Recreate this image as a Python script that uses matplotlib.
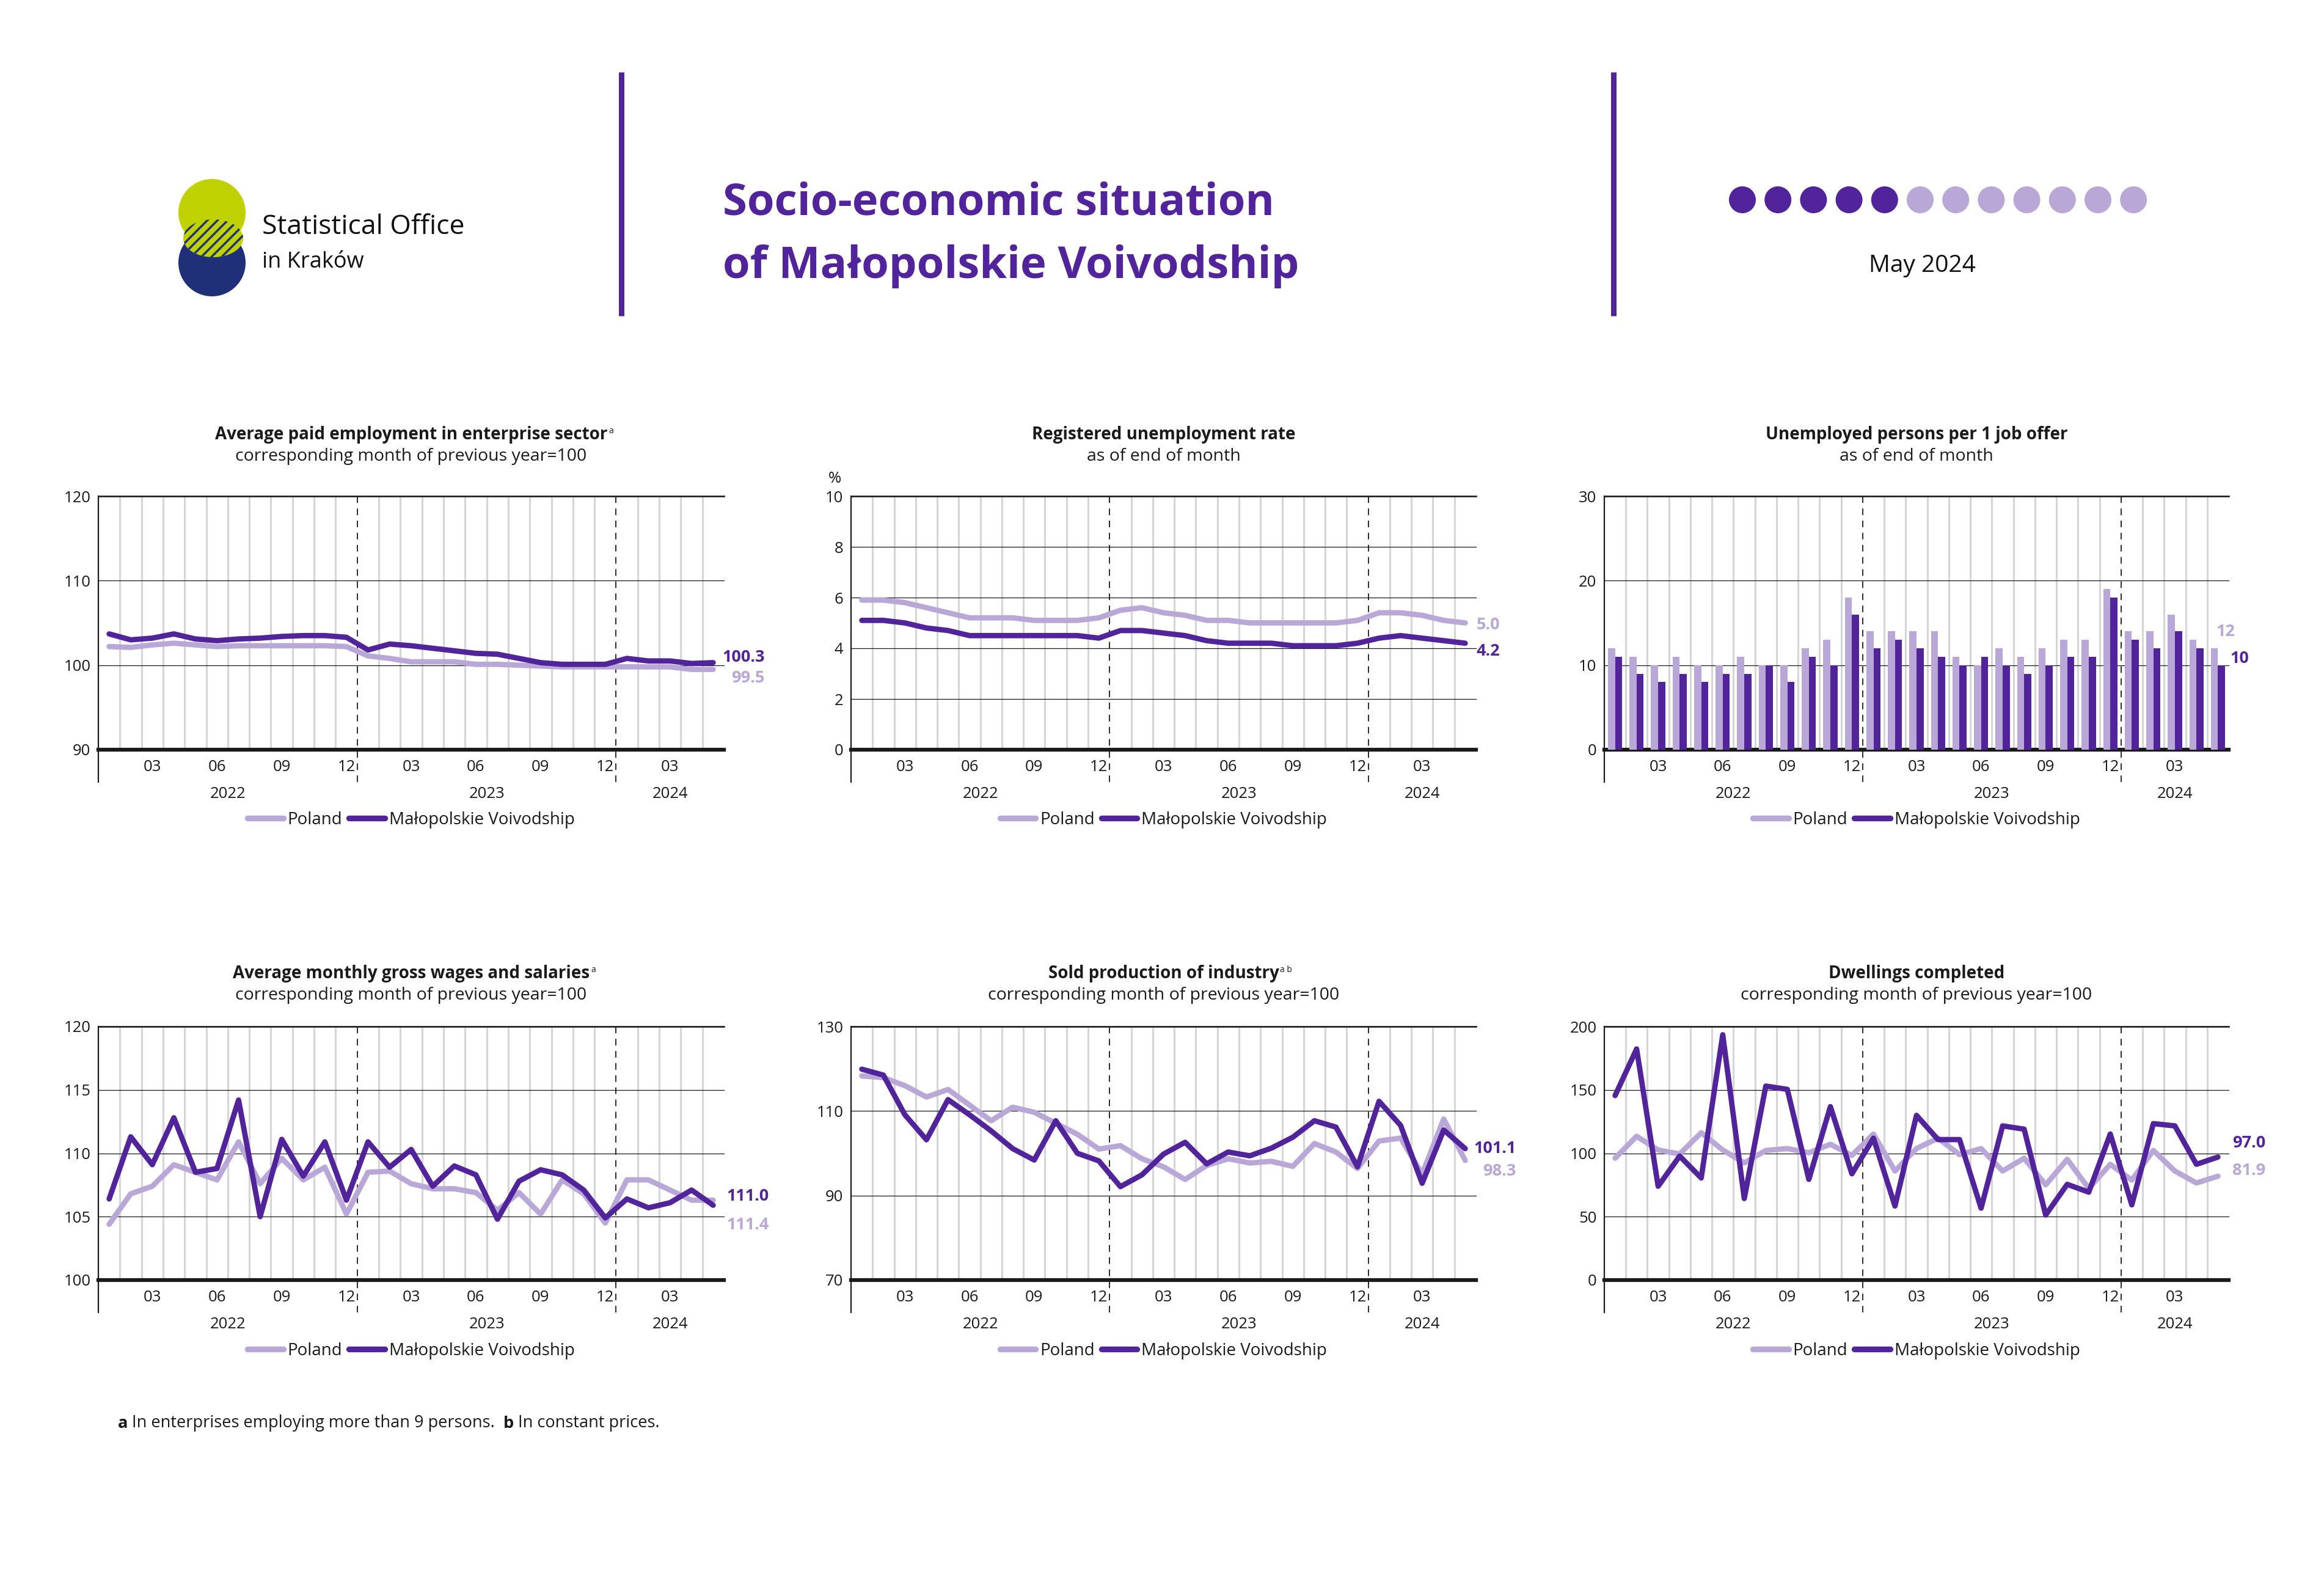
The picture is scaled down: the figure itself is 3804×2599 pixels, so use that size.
import matplotlib
matplotlib.use("Agg")
import matplotlib.pyplot as plt
from matplotlib.lines import Line2D
from matplotlib.patches import Circle, Ellipse

plt.rcParams["font.family"] = ["Open Sans", "DejaVu Sans"]
plt.rcParams["hatch.linewidth"] = 2.5

DARK = "#52249b"
LIGHT = "#b9a7d7"
GREY = "#d6d6d6"
INK = "#1a1a1a"
GREEN = "#bfd200"
NAVY = "#1f2f78"

W, H = 3804, 2599          # output size in pixels (dpi 100)
PT = 0.72                  # points per pixel

# ---- data ------------------------------------------------------------------
MONTHS = ["2022-01", "2022-02", "2022-03", "2022-04", "2022-05", "2022-06",
          "2022-07", "2022-08", "2022-09", "2022-10", "2022-11", "2022-12",
          "2023-01", "2023-02", "2023-03", "2023-04", "2023-05", "2023-06",
          "2023-07", "2023-08", "2023-09", "2023-10", "2023-11", "2023-12",
          "2024-01", "2024-02", "2024-03", "2024-04", "2024-05"]
REPORT_MONTH = 5
SERIES_NAMES = ["Poland", "Małopolskie Voivodship"]

EMP_PL = [102.2, 102.1, 102.4, 102.6, 102.4, 102.2, 102.3, 102.3, 102.3, 102.3,
          102.3, 102.2, 101.1, 100.8, 100.4, 100.4, 100.4, 100.1, 100.1, 100.0,
          99.9, 99.8, 99.8, 99.8, 99.8, 99.8, 99.8, 99.5, 99.5]
EMP_MP = [103.7, 103.0, 103.2, 103.7, 103.1, 102.9, 103.1, 103.2, 103.4, 103.5,
          103.5, 103.3, 101.8, 102.5, 102.3, 102.0, 101.7, 101.4, 101.3, 100.8,
          100.3, 100.1, 100.1, 100.1, 100.8, 100.5, 100.5, 100.2, 100.3]

UNEMP_PL = [5.9, 5.9, 5.8, 5.6, 5.4, 5.2, 5.2, 5.2, 5.1, 5.1, 5.1, 5.2, 5.5, 5.6,
            5.4, 5.3, 5.1, 5.1, 5.0, 5.0, 5.0, 5.0, 5.0, 5.1, 5.4, 5.4, 5.3, 5.1, 5.0]
UNEMP_MP = [5.1, 5.1, 5.0, 4.8, 4.7, 4.5, 4.5, 4.5, 4.5, 4.5, 4.5, 4.4, 4.7, 4.7,
            4.6, 4.5, 4.3, 4.2, 4.2, 4.2, 4.1, 4.1, 4.1, 4.2, 4.4, 4.5, 4.4, 4.3, 4.2]

OFFER_PL = [12, 11, 10, 11, 10, 10, 11, 10, 10, 12, 13, 18, 14, 14, 14, 14, 11,
            10, 12, 11, 12, 13, 13, 19, 14, 14, 16, 13, 12]
OFFER_MP = [11, 9, 8, 9, 8, 9, 9, 10, 8, 11, 10, 16, 12, 13, 12, 11, 10, 11, 10,
            9, 10, 11, 11, 18, 13, 12, 14, 12, 10]

WAGE_PL = [104.4, 106.8, 107.4, 109.1, 108.5, 107.9, 110.9, 107.6, 109.6, 107.9,
           108.9, 105.2, 108.5, 108.6, 107.6, 107.2, 107.2, 106.9, 105.5, 106.9,
           105.2, 107.9, 106.8, 104.5, 107.9, 107.9, 107.1, 106.3, 106.3]
WAGE_MP = [106.4, 111.3, 109.1, 112.8, 108.5, 108.8, 114.2, 105.0, 111.1, 108.2,
           110.9, 106.3, 110.9, 108.9, 110.3, 107.4, 109.0, 108.3, 104.8, 107.8,
           108.7, 108.3, 107.1, 104.9, 106.4, 105.7, 106.1, 107.1, 105.9]

PROD_PL = [118.3, 117.9, 116.0, 113.3, 115.1, 111.4, 107.7, 110.9, 109.7, 107.1,
           104.5, 101.0, 101.8, 98.7, 96.8, 93.8, 97.1, 98.7, 97.7, 98.1,
           96.9, 102.3, 100.3, 96.4, 102.9, 103.6, 95.1, 108.1, 98.3]
PROD_MP = [119.9, 118.5, 109.1, 103.2, 112.7, 109.1, 105.3, 101.1, 98.4, 107.7,
           100.0, 98.2, 92.1, 94.9, 99.8, 102.6, 97.5, 100.3, 99.4, 101.2,
           103.8, 107.7, 106.2, 96.8, 112.3, 106.6, 92.9, 105.5, 101.1]

DWELL_PL = [96.1, 113.4, 102.6, 99.4, 116.2, 102.6, 92.4, 102.2, 103.7, 100.4,
            107.1, 98.3, 115.2, 86.0, 103.7, 111.9, 98.9, 103.7, 86.0, 96.1,
            75.1, 95.2, 72.3, 91.3, 78.8, 102.2, 86.0, 76.6, 81.9]
DWELL_MP = [145.5, 182.3, 74.0, 97.8, 80.5, 193.5, 64.3, 153.0, 150.4, 79.4,
            136.8, 83.8, 111.9, 58.4, 129.9, 110.8, 110.8, 56.7, 121.6, 119.0,
            51.3, 75.5, 69.3, 115.2, 59.3, 123.4, 121.6, 91.3, 97.0]

# end-of-series labels as printed (Poland, Małopolskie)
EMP_END = ["99.5", "100.3"]
UNEMP_END = ["5.0", "4.2"]
OFFER_END = ["12", "10"]
WAGE_END = ["111.4", "111.0"]
PROD_END = ["98.3", "101.1"]
DWELL_END = ["81.9", "97.0"]

PANELS = [
    dict(title="Average paid employment in enterprise sector", sup="a",
         sub="corresponding month of previous year=100", kind="line",
         pl=EMP_PL, mp=EMP_MP, end=EMP_END, ticks=[90, 100, 110, 120],
         lab=[(67, -14), (67, 9)]),
    dict(title="Registered unemployment rate", sup="", unit="%",
         sub="as of end of month", kind="line",
         pl=UNEMP_PL, mp=UNEMP_MP, end=UNEMP_END, ticks=[0, 2, 4, 6, 8, 10],
         lab=[(39, -4), (39, -13)]),
    dict(title="Unemployed persons per 1 job offer", sup="",
         sub="as of end of month", kind="bar",
         pl=OFFER_PL, mp=OFFER_MP, end=OFFER_END, ticks=[0, 10, 20, 30],
         lab=[(10, 27), (33, 11)]),
    dict(title="Average monthly gross wages and salaries", sup="a",
         sub="corresponding month of previous year=100", kind="line",
         pl=WAGE_PL, mp=WAGE_MP, end=WAGE_END, ticks=[100, 105, 110, 115, 120],
         lab=[(74, -41), (74, 15)]),
    dict(title="Sold production of industry", sup="a b",
         sub="corresponding month of previous year=100", kind="line",
         pl=PROD_PL, mp=PROD_MP, end=PROD_END, ticks=[70, 90, 110, 130],
         lab=[(66, -18), (66, 0)]),
    dict(title="Dwellings completed", sup="",
         sub="corresponding month of previous year=100", kind="line",
         pl=DWELL_PL, mp=DWELL_MP, end=DWELL_END, ticks=[0, 50, 100, 150, 200],
         lab=[(60, 9), (60, 23)]),
]

# ---- layout (pixels) -------------------------------------------------------
COL_X = [(161, 1185), (1393, 2416), (2626, 3648)]
ROW_TOP = [812, 1680]
AX_H = 415
TITLE_Y = [711, 1593]
LEGEND_Y = [1342, 2211]
FS = 18.5                  # tick / axis label size

fig = plt.figure(figsize=(W / 100, H / 100), dpi=100)
bg = fig.add_axes([0, 0, 1, 1])
bg.set_xlim(0, W)
bg.set_ylim(H, 0)
bg.axis("off")

# ---- header ----------------------------------------------------------------
bg.add_patch(Circle((347, 430), 55, color=NAVY, lw=0))
bg.add_patch(Circle((347, 348), 55, color=GREEN, lw=0))
bg.add_patch(Ellipse((349, 390), 98, 62, facecolor=GREEN, edgecolor=NAVY,
                     lw=0, hatch="//"))
bg.text(429, 383, "Statistical Office", fontsize=32, color="#111111", va="baseline")
bg.text(429, 438, "in Kraków", fontsize=26, color="#111111", va="baseline")

for x in (1017, 2641):
    bg.plot([x, x], [118, 517], color=DARK, lw=9 * PT, solid_capstyle="butt")

bg.text(1183, 351, "Socio-economic situation", fontsize=52, fontweight="bold",
        color=DARK, va="baseline")
bg.text(1183, 455, "of Małopolskie Voivodship", fontsize=52, fontweight="bold",
        color=DARK, va="baseline")

for k in range(12):
    bg.add_patch(Circle((2852 + k * 58.2, 327), 22, lw=0,
                        color=DARK if k < REPORT_MONTH else LIGHT))
bg.text(3146, 445, "May 2024", fontsize=28, color="#111111", ha="center",
        va="baseline")

# ---- panels ----------------------------------------------------------------
N = len(MONTHS)
xs = [i + 0.5 for i in range(N)]
years = sorted(set(m[:4] for m in MONTHS))

for p, spec in enumerate(PANELS):
    row, col = divmod(p, 3)
    x0, x1 = COL_X[col]
    top = ROW_TOP[row]
    ax = fig.add_axes([x0 / W, 1 - (top + AX_H) / H, (x1 - x0) / W, AX_H / H])
    ax.patch.set_visible(False)
    lo, hi = spec["ticks"][0], spec["ticks"][-1]
    ax.set_xlim(0, N)
    ax.set_ylim(lo, hi)
    for s in ax.spines.values():
        s.set_visible(False)
    ext = -53 / AX_H

    # month separators
    for b in range(1, N):
        if MONTHS[b].endswith("-01"):
            ax.axvline(b, ymin=ext, ymax=1, color=INK, lw=1.3,
                       ls=(0, (6, 5)), clip_on=False, zorder=2)
        else:
            ax.axvline(b, color=GREY, lw=2.3, zorder=1)
    ax.axvline(0, ymin=ext, ymax=1, color=INK, lw=1.6, clip_on=False, zorder=2)

    for t in spec["ticks"]:
        lw = 4.5 if t == lo else (1.9 if t == hi else 0.9)
        ax.axhline(t, color=INK, lw=lw, clip_on=False, zorder=2)

    if spec["kind"] == "bar":
        ax.bar([x - 0.165 for x in xs], spec["pl"], width=0.33, color=LIGHT, zorder=3)
        ax.bar([x + 0.165 for x in xs], spec["mp"], width=0.33, color=DARK, zorder=3)
    else:
        ax.plot(xs, spec["pl"], color=LIGHT, lw=6.3, solid_joinstyle="round",
                solid_capstyle="round", zorder=3)
        ax.plot(xs, spec["mp"], color=DARK, lw=6.3, solid_joinstyle="round",
                solid_capstyle="round", zorder=4)

    ax.set_xticks([])
    ax.set_yticks(spec["ticks"])
    ax.set_yticklabels([str(t) for t in spec["ticks"]])
    ax.tick_params(axis="y", length=0, pad=9, labelsize=FS, labelcolor=INK)

    xt = ax.get_xaxis_transform()
    for i, m in enumerate(MONTHS):
        if m[5:] in ("03", "06", "09", "12"):
            ax.text(xs[i], -29 / AX_H, m[5:], transform=xt, ha="center",
                    va="center", fontsize=FS, color=INK)
    for y in years:
        idx = [i for i, m in enumerate(MONTHS) if m.startswith(y)]
        ax.text((idx[0] + idx[-1] + 1) / 2, -73 / AX_H, y, transform=xt,
                ha="center", va="center", fontsize=FS, color=INK)

    if spec.get("unit"):
        ax.text(-27 / (x1 - x0), 1 + 29 / AX_H, spec["unit"], transform=ax.transAxes,
                ha="center", va="center", fontsize=FS, color=INK)

    # end-of-series value labels
    for vals, txt, color, (dx, dy) in zip((spec["pl"], spec["mp"]), spec["end"],
                                          (LIGHT, DARK), spec["lab"]):
        ax.annotate(txt, xy=(1, vals[-1]), xycoords=ax.get_yaxis_transform(),
                    xytext=(dx * PT, dy * PT), textcoords="offset points",
                    ha="right", va="center", fontsize=19.5, fontweight="bold",
                    color=color, annotation_clip=False)

    # titles
    cx = (x0 + x1) / 2
    ttl = bg.text(cx, TITLE_Y[row], spec["title"], ha="center", va="center",
                  fontsize=20, fontweight="bold", color=INK)
    if spec["sup"]:
        bg.annotate(spec["sup"], xy=(1, 1), xycoords=ttl, xytext=(1.5, -1),
                    textcoords="offset points", ha="left", va="top",
                    fontsize=10, color=INK)
    bg.text(cx, TITLE_Y[row] + 36, spec["sub"], ha="center", va="center",
            fontsize=20.5, color=INK)

    handles = [Line2D([], [], color=LIGHT, lw=6.8, solid_capstyle="round"),
               Line2D([], [], color=DARK, lw=6.8, solid_capstyle="round")]
    fig.legend(handles, SERIES_NAMES, loc="center", ncol=2, frameon=False,
               bbox_to_anchor=(cx / W, 1 - LEGEND_Y[row] / H), fontsize=20,
               handlelength=2.1, handletextpad=0.25, columnspacing=0.4,
               labelcolor=INK)

# ---- footnote --------------------------------------------------------------
parts = [("a", "bold"), (" In enterprises employing more than 9 persons.  ", "normal"),
         ("b", "bold"), (" In constant prices.", "normal")]
prev = bg.text(193, 2330, parts[0][0], fontsize=19.5, fontweight=parts[0][1],
               color=INK, va="center")
for txt, wt in parts[1:]:
    prev = bg.annotate(txt, xy=(1, 0), xycoords=prev, ha="left", va="bottom",
                       fontsize=19.5, fontweight=wt, color=INK)

fig.savefig("out.png", dpi=100, facecolor="white")
